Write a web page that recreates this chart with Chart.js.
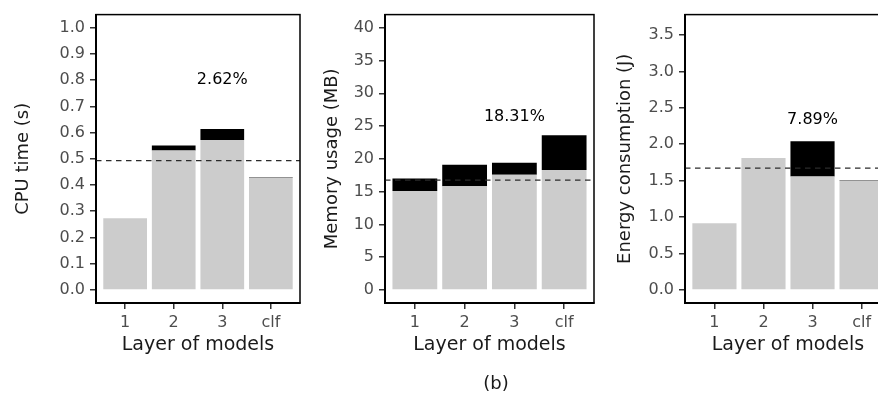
<!DOCTYPE html>
<html>
<head>
<meta charset="utf-8">
<script src="https://cdn.jsdelivr.net/npm/chart.js@4/dist/chart.umd.min.js"></script>
<style>
html,body{margin:0;padding:0;width:878px;height:393px;overflow:hidden;background:#fff;}
canvas{position:absolute;top:0;}
#cap{position:absolute;top:373px;left:446px;width:100px;text-align:center;font-family:'DejaVu Sans';font-size:18px;line-height:20px;color:#1a1a1a;}
</style>
</head>
<body>
<canvas id="k1" width="302" height="393" style="left:0px"></canvas>
<canvas id="k2" width="292" height="393" style="left:304px"></canvas>
<canvas id="k3" width="295" height="393" style="left:598px"></canvas>
<div id="cap">(b)</div>
<script>
// ---- data ----
const categories = ["1", "2", "3", "clf"];
const categoryPositions = [1, 2, 3, 4];

const cpuBase  = [0.273, 0.532, 0.572, 0.428];
const cpuExtra = [0, 0.019, 0.042, 0.002];
const cpuReference = 0.493;
const cpuLabel = "2.62%";
const cpuLabelAt = [3, 0.8];
const cpuTicks = [0, 0.1, 0.2, 0.3, 0.4, 0.5, 0.6, 0.7, 0.8, 0.9, 1.0];

const memBase  = [15.1, 15.8, 17.55, 18.3];
const memExtra = [1.9, 3.3, 1.85, 5.3];
const memReference = 16.75;
const memLabel = "18.31%";
const memLabelAt = [3, 26.4];
const memTicks = [0, 5, 10, 15, 20, 25, 30, 35, 40];

const energyBase  = [0.914, 1.81, 1.557, 1.50];
const energyExtra = [0, 0, 0.483, 0.005];
const energyReference = 1.673;
const energyLabel = "7.89%";
const energyLabelAt = [3, 2.34];
const energyTicks = [0, 0.5, 1.0, 1.5, 2.0, 2.5, 3.0, 3.5];

const FONT = 'DejaVu Sans';

function panelPlugin(refValue, label, labelAt) {
  return {
    id: 'panelDeco',
    afterDatasetsDraw(chart) {
      const {ctx, chartArea, scales} = chart;
      const y = scales.y.getPixelForValue(refValue);
      ctx.save();
      ctx.strokeStyle = '#2b2b2b';
      ctx.lineWidth = 1.2;
      ctx.setLineDash([5.5, 4.5]);
      ctx.beginPath();
      ctx.moveTo(chartArea.left, y);
      ctx.lineTo(chartArea.right, y);
      ctx.stroke();
      ctx.setLineDash([]);
      ctx.fillStyle = '#000';
      ctx.font = '16px "' + FONT + '"';
      ctx.textAlign = 'center';
      ctx.textBaseline = 'middle';
      ctx.fillText(label, scales.x.getPixelForValue(labelAt[0]), scales.y.getPixelForValue(labelAt[1]));
      ctx.restore();
    },
    afterDraw(chart) {
      const {ctx, chartArea} = chart;
      ctx.save();
      ctx.strokeStyle = '#000';
      ctx.lineWidth = 1.5;
      ctx.strokeRect(chartArea.left, chartArea.top, chartArea.right - chartArea.left, chartArea.bottom - chartArea.top);
      ctx.restore();
    }
  };
}

function makePanel(id, base, extra, ticks, decimals, yMin, yMax, yTitle, refValue, label, labelAt, chartLeft, rightPad, titleOffset) {
  const ctx = document.getElementById(id);
  new Chart(ctx, {
    type: 'bar',
    data: {
      datasets: [
        {data: categoryPositions.map((x, i) => ({x, y: base[i]})), backgroundColor: '#CCCCCC', borderWidth: 0, categoryPercentage: 1, barPercentage: 0.9},
        {data: categoryPositions.map((x, i) => ({x, y: extra[i]})), backgroundColor: '#000000', borderWidth: 0, categoryPercentage: 1, barPercentage: 0.9}
      ]
    },
    options: {
      responsive: false,
      animation: false,
      devicePixelRatio: 1,
      layout: {padding: {top: 13, right: rightPad, left: 0, bottom: 0}},
      plugins: {legend: {display: false}, tooltip: {enabled: false}},
      scales: {
        x: {
          type: 'linear', stacked: true, offset: false, min: 0.4, max: 4.6,
          afterBuildTicks: s => { s.ticks = categoryPositions.map(v => ({value: v})); },
          afterFit: s => { s.height = 90; },
          ticks: {
            color: '#4D4D4D', font: {family: FONT, size: 16}, padding: 4, maxRotation: 0, autoSkip: false,
            callback: v => categories[categoryPositions.indexOf(v)]
          },
          grid: {drawOnChartArea: false, drawTicks: true, tickLength: 6, color: '#333333', lineWidth: 1.5, offset: false},
          border: {display: true, color: '#000', width: 2},
          title: {display: true, text: 'Layer of models', color: '#1a1a1a', font: {family: FONT, size: 19}, padding: {top: 0, bottom: 36.5}}
        },
        y: {
          type: 'linear', stacked: true, min: yMin, max: yMax,
          afterBuildTicks: s => { s.ticks = ticks.map(v => ({value: v})); },
          afterFit: s => { s.width = chartLeft; },
          ticks: {color: '#4D4D4D', font: {family: FONT, size: 16}, padding: 5, callback: v => Number(v).toFixed(decimals)},
          grid: {drawOnChartArea: false, drawTicks: true, tickLength: 6, color: '#333333', lineWidth: 1.5},
          border: {display: true, color: '#000', width: 2},
          title: {display: true, text: yTitle, color: '#1a1a1a', font: {family: FONT, size: 18}, padding: {top: titleOffset - 10.8, bottom: 0}}
        }
      }
    },
    plugins: [panelPlugin(refValue, label, labelAt)]
  });
}

makePanel('k1', cpuBase, cpuExtra, cpuTicks, 1, -0.05, 1.05, 'CPU time (s)', cpuReference, cpuLabel, cpuLabelAt, 96, 2, 23.3);
makePanel('k2', memBase, memExtra, memTicks, 0, -2, 42, 'Memory usage (MB)', memReference, memLabel, memLabelAt, 81, 2, 28.7);
makePanel('k3', energyBase, energyExtra, energyTicks, 1, -0.18, 3.78, 'Energy consumption (J)', energyReference, energyLabel, energyLabelAt, 87, 2, 27);
</script>
</body>
</html>
